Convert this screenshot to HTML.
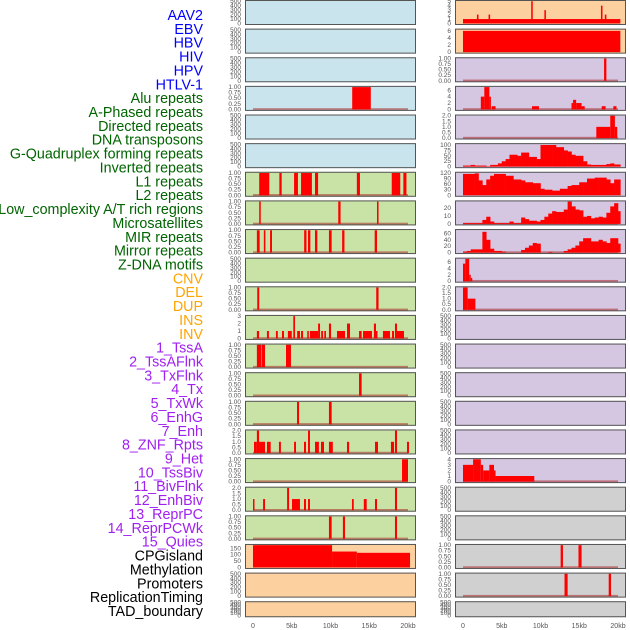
<!DOCTYPE html>
<html><head><meta charset="utf-8"><style>
html,body{margin:0;padding:0;background:#fff;}
svg{display:block;font-family:"Liberation Sans",sans-serif;}
</style></head><body>
<svg id="chart" width="630" height="630" viewBox="0 0 630 630" xmlns="http://www.w3.org/2000/svg"></svg>
<script>
const labels = ["AAV2","EBV","HBV","HIV","HPV","HTLV-1","Alu repeats","A-Phased repeats","Directed repeats","DNA transposons","G-Quadruplex forming repeats","Inverted repeats","L1 repeats","L2 repeats","Low_complexity A/T rich regions","Microsatellites","MIR repeats","Mirror repeats","Z-DNA motifs","CNV","DEL","DUP","INS","INV","1_TssA","2_TssAFlnk","3_TxFlnk","4_Tx","5_TxWk","6_EnhG","7_Enh","8_ZNF_Rpts","9_Het","10_TssBiv","11_BivFlnk","12_EnhBiv","13_ReprPC","14_ReprPCWk","15_Quies","CPGisland","Methylation","Promoters","ReplicationTiming","TAD_boundary"];
const labelGroups = [6,13,5,15,5];
const groupColors = ["#0000ff","#006400","#ffa500","#a020f0","#000000"];
const xTicks = [0,5,10,15,20];
const xTickLabels = ["0","5kb","10kb","15kb","20kb"];

// segment data: [startKb, endKb, value]
const aav2Spikes = [[0,20.3,1],[1.8,2.0,2],[3.3,3.5,2],[8.8,9.0,5],[10.5,10.7,3],[17.8,18.0,4],[18.3,18.5,2]];
const ebvSegs = [[0,20.3,6]];
const hbvSegs = [[18.2,18.5,1]];
const aluSegs = [[12.8,15.2,1]];
const hivSegs = [[2.3,2.75,4],[2.75,3.4,7],[3.4,3.6,4],[3.7,4.2,1],[8.9,9.8,1],[14.0,14.2,2],[14.2,14.6,3],[14.6,15.3,2],[15.3,15.7,1],[17.9,18.4,1],[19.4,19.8,1]];
const hpvSegs = [[17.2,19.0,1],[19.0,19.6,2],[19.6,19.9,1]];
const invertedSegs = [[0.8,2.1,1],[3.4,3.7,1],[5.3,5.8,1],[6.2,7.6,1],[8.0,8.4,1],[13.4,13.8,1],[17.9,19.0,1],[19.4,19.8,1]];
const l2Segs = [[0.8,1.0,1],[11.0,11.3,1],[16.0,16.2,1]];
const microSegs = [[0.5,0.86,1],[1.4,1.6,1],[2.2,2.45,1],[6.6,6.9,1],[7.1,7.4,1],[8.0,8.3,1],[9.8,10.15,1],[11.5,11.8,1],[15.7,16.0,1]];
const mirrorSegs = [[0.55,0.8,1],[15.9,16.2,1]];
const zdnaSegs = [[0,0.3,5.5],[0.3,0.8,7],[0.8,1.0,2],[1.0,1.2,1]];
const cnvSegs = [[0,0.6,2],[0.6,1.6,1]];
const insSegs = [[0.5,0.78,1],[1.8,2.05,1],[2.96,3.2,1],[3.74,4.0,1],[4.5,5.0,1],[5.2,5.42,3],[5.7,6.06,1],[6.2,6.45,1],[7.0,7.2,1],[7.35,8.4,1],[8.4,8.65,2],[8.8,9.03,1],[9.2,9.42,1],[9.8,10.07,2],[10.84,11.87,1],[12.13,12.52,2],[13.68,14.02,1],[14.2,15.35,1],[15.6,15.87,2],[15.87,16.0,1],[16.77,17.68,1],[17.94,18.2,1],[18.32,18.58,2],[18.58,19.48,1]];
const tssASegs = [[0.5,1.1,1],[1.16,1.55,1],[4.26,4.9,1]];
const txFlnkSegs = [[13.68,14.02,1]];
const txWkSegs = [[5.68,5.94,1],[9.8,10.15,1]];
const enhSegs = [[0.13,0.5,1],[0.5,0.78,2],[0.78,1.55,1],[1.8,2.28,1],[3.35,3.6,1],[5.3,5.55,1],[6.58,6.84,1],[7.1,7.35,2],[8.0,8.5,1],[8.77,9.16,1],[9.8,10.3,1],[12.13,12.4,1],[15.74,16.13,1],[17.8,18.2,1],[18.32,18.58,2],[19.87,20.13,1]];
const hetSegs = [[19.23,20.0,1]];
const tssBivSegs = [[0,1.3,3],[1.3,2.3,4],[2.3,2.6,3],[2.6,3.4,2],[3.4,4.0,3],[4.0,4.2,2],[4.2,9.2,1]];
const bivFlnkSegs = [[0,0.13,1],[1.3,1.55,1],[4.4,4.65,2],[5.03,6.06,1],[6.58,6.84,1],[7.1,7.35,1],[12.77,13.0,1],[14.3,14.67,1],[15.74,16.0,1],[18.32,18.58,2]];
const reprPCSegs = [[9.8,10.15,1],[11.6,11.87,1],[18.32,18.58,1]];
const cpgSegs = [[0,10.2,175],[10.2,13.4,125],[13.4,20.26,115]];
const quiesSegs = [[12.6,12.9,1],[14.9,15.3,1]];
const methSegs = [[13.1,13.5,1],[18.8,19.1,1]];

// profile data: values per 0.5kb bin starting at 0kb
const gquadProfile = [5,5,8,5,5,5,2,8,8,15,25,35,55,55,50,65,65,45,45,35,100,100,100,100,90,90,75,70,55,50,50,25,10,8,8,8,8,12,15,10,10];
const l1Profile = [115,115,115,118,80,55,85,105,115,115,115,105,105,85,85,80,70,70,65,65,35,30,30,25,25,35,35,50,55,55,70,70,90,90,95,95,95,85,65,85,85];
const lowCompProfile = [1,1,1,1,1,5,9,3,1,1,1,1,3,1,1,8,6,4,4,3,5,9,13,16,15,15,18,28,22,18,17,9,10,7,8,9,8,14,22,26,16];
const mirProfile = [3,5,10,10,10,65,40,12,5,5,3,0,0,0,0,8,15,22,30,28,0,0,2,0,0,0,5,10,15,22,35,45,45,35,35,40,35,30,45,45,28];

const BLUE="#c9e4ec", PEACH="#fdd09f", LAV="#d5c6e2", GREEN="#c9e2a6", GREY="#d0d0d0";
const T500=[0,100,200,300,400,500], T1=[0,0.25,0.5,0.75,1], T2=[0,0.5,1,1.5,2];
const T1L=["0.00","0.25","0.50","0.75","1.00"], T2L=["0.0","0.5","1.0","1.5","2.0"];
const panels = [
 {r:0,c:0,bg:BLUE,ticks:T500,ymax:500,name:"aav2-left"},
 {r:0,c:1,bg:PEACH,ticks:[0,1,2,3,4,5],ymax:5,segs:aav2Spikes,name:"aav2-right"},
 {r:1,c:0,bg:BLUE,ticks:T500,ymax:500,name:"ebv-left"},
 {r:1,c:1,bg:PEACH,ticks:[0,2,4,6],ymax:6.3,segs:ebvSegs,name:"ebv-right"},
 {r:2,c:0,bg:BLUE,ticks:T500,ymax:500,name:"hbv-left"},
 {r:2,c:1,bg:LAV,ticks:T1,tl:T1L,ymax:1,segs:hbvSegs,base:true,name:"hbv-right"},
 {r:3,c:0,bg:BLUE,ticks:T1,tl:T1L,ymax:1,segs:aluSegs,base:true,name:"alu-left"},
 {r:3,c:1,bg:LAV,ticks:[0,2,4,6],ymax:7,segs:hivSegs,base:true,name:"hiv-right"},
 {r:4,c:0,bg:BLUE,ticks:T500,ymax:500,name:"hpv-left"},
 {r:4,c:1,bg:LAV,ticks:T2,tl:T2L,ymax:2,segs:hpvSegs,base:true,name:"hpv-right"},
 {r:5,c:0,bg:BLUE,ticks:T500,ymax:500,name:"htlv-left"},
 {r:5,c:1,bg:LAV,ticks:[0,25,50,75,100],ymax:103,prof:gquadProfile,name:"gquad-right"},
 {r:6,c:0,bg:GREEN,ticks:T1,tl:T1L,ymax:1,segs:invertedSegs,base:true,name:"inverted-left"},
 {r:6,c:1,bg:LAV,ticks:[0,30,60,90,120],ymax:120,prof:l1Profile,name:"l1-right"},
 {r:7,c:0,bg:GREEN,ticks:T1,tl:T1L,ymax:1,segs:l2Segs,base:true,name:"l2-left"},
 {r:7,c:1,bg:LAV,ticks:[0,10,20],ymax:28,prof:lowCompProfile,base:true,name:"lowcomp-right"},
 {r:8,c:0,bg:GREEN,ticks:T1,tl:T1L,ymax:1,segs:microSegs,base:true,name:"micro-left"},
 {r:8,c:1,bg:LAV,ticks:[0,20,40,60],ymax:70,prof:mirProfile,base:true,name:"mir-right"},
 {r:9,c:0,bg:GREEN,ticks:T500,ymax:500,name:"dnatrans-left"},
 {r:9,c:1,bg:LAV,ticks:[0,2,4,6],ymax:7,segs:zdnaSegs,base:true,name:"zdna-right"},
 {r:10,c:0,bg:GREEN,ticks:T1,tl:T1L,ymax:1,segs:mirrorSegs,base:true,name:"mirror-left"},
 {r:10,c:1,bg:LAV,ticks:T2,tl:T2L,ymax:2,segs:cnvSegs,base:true,name:"cnv-right"},
 {r:11,c:0,bg:GREEN,ticks:[0,1,2,3],ymax:3,segs:insSegs,base:true,name:"ins-left"},
 {r:11,c:1,bg:LAV,ticks:T500,ymax:500,name:"row11-right"},
 {r:12,c:0,bg:GREEN,ticks:T1,tl:T1L,ymax:1,segs:tssASegs,base:true,name:"tssa-left"},
 {r:12,c:1,bg:LAV,ticks:T500,ymax:500,name:"row12-right"},
 {r:13,c:0,bg:GREEN,ticks:T1,tl:T1L,ymax:1,segs:txFlnkSegs,base:true,name:"txflnk-left"},
 {r:13,c:1,bg:LAV,ticks:T500,ymax:500,name:"row13-right"},
 {r:14,c:0,bg:GREEN,ticks:T1,tl:T1L,ymax:1,segs:txWkSegs,base:true,name:"txwk-left"},
 {r:14,c:1,bg:LAV,ticks:T500,ymax:500,name:"row14-right"},
 {r:15,c:0,bg:GREEN,ticks:T2,tl:T2L,ymax:2,segs:enhSegs,base:true,name:"enh-left"},
 {r:15,c:1,bg:LAV,ticks:T500,ymax:500,name:"row15-right"},
 {r:16,c:0,bg:GREEN,ticks:T1,tl:T1L,ymax:1,segs:hetSegs,base:true,name:"het-left"},
 {r:16,c:1,bg:LAV,ticks:[0,1,2,3,4],ymax:4,segs:tssBivSegs,base:true,name:"tssbiv-right"},
 {r:17,c:0,bg:GREEN,ticks:T2,tl:T2L,ymax:2,segs:bivFlnkSegs,base:true,name:"bivflnk-left"},
 {r:17,c:1,bg:GREY,ticks:T500,ymax:500,name:"row17-right"},
 {r:18,c:0,bg:GREEN,ticks:T1,tl:T1L,ymax:1,segs:reprPCSegs,base:true,name:"reprpc-left"},
 {r:18,c:1,bg:GREY,ticks:T500,ymax:500,name:"row18-right"},
 {r:19,c:0,bg:PEACH,ticks:[0,50,100,150],ymax:175,segs:cpgSegs,name:"cpg-left"},
 {r:19,c:1,bg:GREY,ticks:T1,tl:T1L,ymax:1,segs:quiesSegs,base:true,name:"quies-right"},
 {r:20,c:0,bg:PEACH,ticks:T500,ymax:500,name:"methylation-left"},
 {r:20,c:1,bg:GREY,ticks:T1,tl:T1L,ymax:1,segs:methSegs,base:true,name:"methylation-right"},
 {r:21,c:0,bg:PEACH,ticks:T500,ymax:500,name:"tad-left"},
 {r:21,c:1,bg:GREY,ticks:T500,ymax:500,name:"tad-right"}
];

const NS="http://www.w3.org/2000/svg";
const svg=document.getElementById("chart");
function mk(tag,attrs,parent){const e=document.createElementNS(NS,tag);for(const k in attrs)e.setAttribute(k,attrs[k]);(parent||svg).appendChild(e);return e;}
const colLeft=[245,455], colRight=[416,626], zeroX=[253,463], pxPerKb=7.75;
function xScale(c,kb){return zeroX[c]+kb*pxPerKb;}
function rowTop(r){return r*28.63;}
function rowH(r){return r===21?16:25;}

let k=0;
labelGroups.forEach((n,g)=>{for(let i=0;i<n;i++){
  const t=mk("text",{x:203,y:(15+k*13.86+5).toFixed(1),"text-anchor":"end","font-size":"14.3",fill:groupColors[g]});
  
  
  t.textContent=labels[k];k++;}});

panels.forEach(p=>{
  const top=rowTop(p.r), h=rowH(p.r), x0=colLeft[p.c], x1=colRight[p.c];
  const yB=top+h-1.5, yT=top+1.2;
  const ys=v=>yB-(v/p.ymax)*(yB-yT);
  const g=mk("g",{});
  
  
  const bg=mk("rect",{x:x0,y:top,width:x1-x0,height:h,fill:p.bg},g);
  
  
  if(p.base){const b=mk("rect",{x:xScale(p.c,0),y:yB-1.2,width:20*pxPerKb,height:2,fill:"rgba(170,40,40,0.55)"},g);
    
    }
  if(p.segs){p.segs.forEach(s=>{
    const a=xScale(p.c,s[0]), b=xScale(p.c,s[1]);
    const r=mk("rect",{x:a.toFixed(2),y:ys(s[2]).toFixed(2),width:Math.max(1.5,b-a).toFixed(2),height:(yB-ys(s[2])).toFixed(2),fill:"#ff0000"},g);
    
    });}
  if(p.prof){p.prof.forEach((v,i)=>{
    const s0=i*0.5, s1=Math.min(i*0.5+0.5,20.3); if(s1<=s0||v<=0)return;
    const a=xScale(p.c,s0), b=xScale(p.c,s1);
    const r=mk("rect",{x:a.toFixed(2),y:ys(v).toFixed(2),width:(b-a+0.3).toFixed(2),height:(yB-ys(v)).toFixed(2),fill:"#ff0000"},g);
    
    });}
  const br=mk("rect",{x:x0+0.5,y:top+0.5,width:x1-x0-1,height:h-1,fill:"none",stroke:"#555","stroke-width":"1"},g);
  
  
  p.ticks.forEach((t,i)=>{
    const tx=mk("text",{x:x0-4,y:(ys(t)+2).toFixed(1),"text-anchor":"end","font-size":"6.5",fill:"#555"},g);
    
    
    tx.textContent=p.tl?p.tl[i]:String(t);});
});

[0,1].forEach(c=>{xTicks.forEach((t,i)=>{
  const tx=mk("text",{x:xScale(c,t),y:628,"text-anchor":"middle","font-size":"7",fill:"#555"});
  
  
  tx.textContent=xTickLabels[i];});});
</script>
</body></html>
